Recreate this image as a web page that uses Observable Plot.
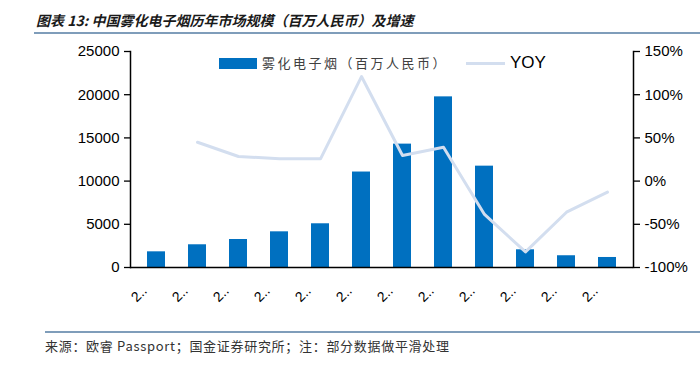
<!DOCTYPE html>
<html><head><meta charset="utf-8">
<script src="https://cdn.jsdelivr.net/npm/d3@7"></script>
<script src="https://cdn.jsdelivr.net/npm/@observablehq/plot@0.6"></script>
<style>
body{margin:0;background:#fff;}
#wrap{position:relative;width:700px;height:366px;overflow:hidden;background:#fff;font-family:"Liberation Sans",Arial,sans-serif;}
#title{position:absolute;left:36px;top:10px;font-family:"Noto Sans CJK SC",sans-serif;font-size:14px;font-weight:bold;font-style:italic;color:#1a1a1a;white-space:nowrap;line-height:20px;}
#rule1{position:absolute;left:34px;top:32px;width:666px;height:2px;background:#7f9dba;}
#rule2{position:absolute;left:45px;top:331px;width:655px;height:2px;background:#7f9dba;}
#source{position:absolute;left:45px;top:337px;font-family:"Noto Sans CJK SC",sans-serif;font-size:13px;letter-spacing:0.7px;color:#333;white-space:nowrap;line-height:18px;}
#chart{position:absolute;left:0;top:0;}
.leg{position:absolute;white-space:nowrap;}
</style></head><body>
<div id="wrap">
  <div id="chart"></div>
  <div id="title"></div>
  <div id="rule1"></div>
  <div id="rule2"></div>
  <div id="source"></div>
  <div id="legend"></div>
</div>
<script>
const titleText = "图表 13: 中国雾化电子烟历年市场规模（百万人民币）及增速";
const sourceText = "来源：欧睿 Passport；国金证券研究所；注：部分数据做平滑处理";
const barSeriesName = "雾化电子烟（百万人民币）";
const lineSeriesName = "YOY";
const years = ["2014","2015","2016","2017","2018","2019","2020","2021","2022","2023","2024","2025"];
const xTickLabels = ["2..","2..","2..","2..","2..","2..","2..","2..","2..","2..","2..","2.."];
const sales = [1815, 2630, 3240, 4130, 5060, 11050, 14280, 19750, 11730, 2050, 1360, 1160];
const yoy = [null, 45, 28.5, 25.8, 25.8, 121, 29.6, 39.2, -38.6, -82, -36, -12.8];
const leftTicks = [0, 5000, 10000, 15000, 20000, 25000];
const rightTicks = [-100, -50, 0, 50, 100, 150];

const leftMax = 25000, rMin = -100, rMax = 150;
const toLeft = v => (v - rMin) / (rMax - rMin) * leftMax;
const fromLeft = v => v / leftMax * (rMax - rMin) + rMin;

document.getElementById("title").textContent = titleText;
document.getElementById("source").textContent = sourceText;

const data = years.map((y, i) => ({year: y, sales: sales[i], yoy: yoy[i]}));
const barColor = "#0070c0", lineColor = "#d3deef";

const chart = Plot.plot({
  width: 700, height: 320,
  marginTop: 51, marginBottom: 53, marginLeft: 130, marginRight: 67,
  style: {fontFamily: "'Liberation Sans', Arial, sans-serif", fontSize: "15px", color: "#000", background: "transparent", overflow: "visible"},
  x: {type: "band", domain: years, paddingInner: 0.55, paddingOuter: 0.275, axis: null},
  y: {domain: [0, leftMax], axis: null},
  marks: [
    Plot.barY(data, {x: "year", y: "sales", fill: barColor}),
    Plot.line(data.filter(d => d.yoy != null), {x: "year", y: d => toLeft(d.yoy), stroke: lineColor, strokeWidth: 3}),
    Plot.axisY(leftTicks, {anchor: "left", label: null, tickSize: 6, tickPadding: 5, stroke: "#000", strokeWidth: 1.3, tickFormat: d => String(d)}),
    Plot.axisY(rightTicks.map(toLeft), {anchor: "right", label: null, tickSize: 6, tickPadding: 5, stroke: "#000", strokeWidth: 1.3, tickFormat: d => Math.round(fromLeft(d)) + "%"}),
    Plot.axisX({label: null, tickSize: 0, tickPadding: 21, tickRotate: -45, fontSize: 14, dx: -12, tickFormat: d => xTickLabels[years.indexOf(d)]}),
    Plot.ruleY([0], {stroke: "#000", strokeWidth: 1.5}),
    Plot.frame({anchor: "left", stroke: "#000", strokeWidth: 1.5}),
    Plot.frame({anchor: "right", stroke: "#000", strokeWidth: 1.5})
  ]
});
document.getElementById("chart").appendChild(chart);

const legend = document.getElementById("legend");
legend.innerHTML =
  `<div class="leg" style="left:219px;top:58px;width:38px;height:11px;background:${barColor};"></div>` +
  `<div class="leg" style="left:262px;top:54px;font-family:'Noto Sans CJK SC',sans-serif;font-size:13px;letter-spacing:2.5px;color:#404040;line-height:18px;">${barSeriesName}</div>` +
  `<div class="leg" style="left:466px;top:62px;width:39px;height:3px;background:${lineColor};"></div>` +
  `<div class="leg" style="left:510px;top:53px;font-family:'Liberation Sans',Arial,sans-serif;font-size:17px;color:#000;line-height:20px;">${lineSeriesName}</div>`;
</script>
</body></html>
